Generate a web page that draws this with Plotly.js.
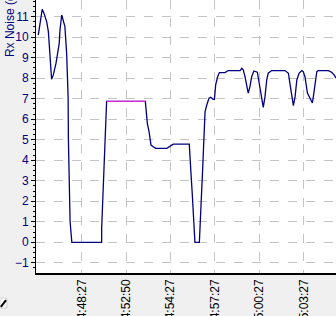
<!DOCTYPE html>
<html>
<head>
<meta charset="utf-8">
<script src="https://cdn.plot.ly/plotly-3.0.1.min.js"></script>
<style>html,body{margin:0;padding:0;background:#f0f0f0;}#chart{width:336px;height:316px;}</style>
</head>
<body>
<div id="chart"></div>
<script>
// sample position (index) and Rx noise values
const sampleIdx = [0.4,2.0,2.7,3.8,4.5,5.2,5.4,5.8,6.5,7.6,8.9,9.2,9.9,10.5,11.2,11.9,12.5,12.6,13.0,13.3,14.0,26.1,26.1,26.5,26.9,27.2,27.6,28.1,43.8,44.1,44.6,45.3,45.7,46.1,47.0,48.0,52.5,53.4,55.1,61.6,61.9,62.3,62.8,63.2,63.7,63.9,65.7,66.0,66.4,66.9,67.3,67.7,68.0,68.7,69.6,70.3,71.3,71.8,72.3,73.1,73.8,76.1,77.4,82.2,82.9,83.5,84.2,85.5,86.2,86.9,87.8,89.2,89.9,91.0,91.6,92.3,93.0,93.6,95.0,100.4,101.8,102.4,103.4,103.8,104.5,105.2,106.1,107.2,107.8,108.5,109.5,110.5,111.5,111.9,112.6,113.3,113.9,118.0,119.3,120.3,121.1];
const rxNoise = [10.1,11.36,11.17,10.76,10.27,8.97,8.32,7.95,8.16,8.73,9.70,10.35,11.08,10.84,10.51,9.21,7.1,5.1,3.0,1.0,0,0,0.7,2.06,3.4,4.84,6.12,6.87,6.87,6.29,5.80,5.39,4.99,4.74,4.66,4.58,4.58,4.66,4.78,4.78,4.34,3.36,2.39,1.41,0.44,0,0,0.6,1.9,3.2,4.5,5.64,6.37,6.69,7.02,7.07,6.97,6.97,7.67,8.07,8.27,8.27,8.37,8.37,8.48,8.40,8.07,7.27,7.59,8.07,8.35,8.29,7.75,7.02,6.58,7.10,7.91,8.24,8.37,8.37,8.24,7.75,7.10,6.66,7.10,7.91,8.24,8.37,8.32,8.07,7.27,7.02,6.79,7.10,7.75,8.32,8.37,8.37,8.29,8.16,8.0];
// highlighted (selected) segment
const selIdx = [28.1, 43.8];
const selVal = [6.87, 6.87];
// time tick labels
const tickIdx = [18, 36, 54, 72, 90, 108];
const tickLabels = ["14:48:27","14:52:50","14:54:27","14:57:27","15:00:27","15:03:27"];
const yTicks = [-1,0,1,2,3,4,5,6,7,8,9,10,11];

const traces = [
  {x: sampleIdx, y: rxNoise, type: 'scatter', mode: 'lines',
   line: {color: '#000080', width: 1.3}, hoverinfo: 'skip'},
  {x: selIdx, y: selVal, type: 'scatter', mode: 'lines',
   line: {color: '#e020e0', width: 1.3}, hoverinfo: 'skip'}
];

const layout = {
  width: 336, height: 316,
  margin: {l: 36, r: 0, t: 0, b: 43},
  paper_bgcolor: '#f0f0f0', plot_bgcolor: '#ffffff',
  showlegend: false,
  font: {family: 'Liberation Sans, Arial, sans-serif', size: 12},
  xaxis: {
    range: [-0.52, 121.08], tickmode: 'array', tickvals: tickIdx, ticktext: tickLabels,
    tickangle: -90, tickfont: {color: '#000000', size: 12},
    showgrid: true, gridcolor: '#c4c4c4', griddash: 'dash', gridwidth: 1,
    zeroline: false, showline: true, linecolor: '#000000', linewidth: 1.5,
    ticks: '', ticklen: 0
  },
  yaxis: {
    range: [-1.497, 11.81], tickmode: 'array', tickvals: yTicks,
    tickfont: {color: '#000080', size: 12},
    showgrid: true, gridcolor: '#c4c4c4', griddash: 'dash', gridwidth: 1,
    zeroline: false, showline: true, linecolor: '#000000', linewidth: 1,
    ticks: 'outside', ticklen: 4, tickcolor: '#000000', tickwidth: 1,
    minor: {dtick: 0.25, ticks: 'outside', ticklen: 2, tickcolor: '#000000', showgrid: false}
  },
  annotations: [{
    text: 'Rx Noise (dB)', textangle: -90, showarrow: false,
    xref: 'paper', yref: 'paper', x: -0.087, y: 0.785,
    xanchor: 'center', yanchor: 'bottom',
    font: {color: '#000080', size: 12, family: 'Liberation Sans, Arial, sans-serif'}
  }],
  shapes: [
    {type: 'rect', xref: 'paper', yref: 'paper', x0: -0.12, x1: -0.097, y0: -0.128, y1: -0.092,
     fillcolor: '#ffffff', line: {color: '#d0d0d0', width: 1}},
    {type: 'line', xref: 'paper', yref: 'paper', x0: -0.117, x1: -0.1, y0: -0.124, y1: -0.099,
     line: {color: '#000000', width: 2}}
  ]
};

Plotly.newPlot('chart', traces, layout, {staticPlot: true, displayModeBar: false});
</script>
</body>
</html>
